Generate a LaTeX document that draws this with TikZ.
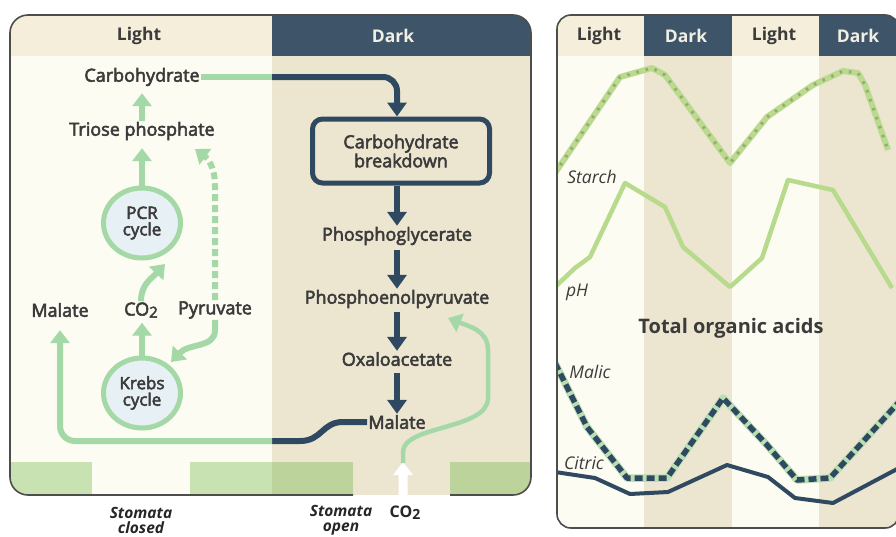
\documentclass[tikz,border=0pt]{standalone}
\usepackage{fontspec}
\setmainfont{Open Sans}
\newfontfamily\medf[FakeBold=3]{Open Sans}
\usetikzlibrary{arrows.meta,shapes.geometric,calc}

\definecolor{lbody}{HTML}{FDFCF2}
\definecolor{dbody}{HTML}{ECE6D1}
\definecolor{lhead}{HTML}{F4EEDA}
\definecolor{dhead}{HTML}{3E5569}
\definecolor{gArrow}{HTML}{A4D8A6}
\definecolor{dArrow}{HTML}{2F4A60}
\definecolor{txtc}{HTML}{3B3B3B}
\definecolor{circfill}{HTML}{E7F0F4}
\definecolor{stripL}{HTML}{C8E3B1}
\definecolor{stripD}{HTML}{BCD39B}
\definecolor{borderc}{HTML}{4D4D4D}
\definecolor{starchc}{HTML}{BCD990}
\definecolor{starchdot}{HTML}{8FB06C}
\definecolor{phc}{HTML}{B8DA8C}
\definecolor{malicbg}{HTML}{B9DEB4}
\definecolor{headtxt}{HTML}{F1EEE3}

\begin{document}
\begin{tikzpicture}[x=1pt,y=-1pt,
  lbl/.style={font=\medf\fontsize{18}{19}\selectfont, text=txtc, inner sep=1pt},
  hdr/.style={font=\bfseries\fontsize{17.5}{17.5}\selectfont, inner sep=0pt},
  itl/.style={font=\itshape\fontsize{17.5}{17.5}\selectfont, text=txtc, inner sep=0pt},
  stom/.style={font=\bfseries\itshape\fontsize{15.5}{15}\selectfont, text=black!85, align=center, inner sep=0pt},
  cyc/.style={ellipse, draw=gArrow, line width=5pt, fill=circfill, minimum width=77pt, minimum height=70pt, align=center, inner sep=0pt, font=\medf\fontsize{17}{16.5}\selectfont, text=txtc},
  gline/.style={draw=gArrow, line width=6pt},
  garr/.style={gline, -{Triangle[width=19pt,length=13pt]}},
  darr/.style={draw=dArrow, line width=6pt, -{Triangle[width=19pt,length=14pt]}},
  dline/.style={draw=dArrow, line width=6pt},
]
\useasboundingbox (0,0) rectangle (896,536);
\clip (0,0) rectangle (896,536);

% ---------- left panel background ----------
\begin{scope}
\clip[rounded corners=18pt] (10,15) rectangle (531,495);
\fill[lhead] (10,15) rectangle (272,56);
\fill[dhead] (272,15) rectangle (531,56);
\fill[lbody] (10,56) rectangle (272,462);
\fill[dbody] (272,56) rectangle (531,462);
\fill[stripL] (10,462) rectangle (92,495);
\fill[lbody] (92,462) rectangle (190,495);
\fill[stripL] (190,462) rectangle (272,495);
\fill[stripD] (272,462) rectangle (353,495);
\fill[dbody] (353,462) rectangle (450,495);
\fill[stripD] (450,462) rectangle (531,495);
\end{scope}
\draw[borderc, line width=1.6pt, rounded corners=18pt] (353,495) -- (10,495) -- (10,15) -- (531,15) -- (531,495) -- (450,495);

% white CO2 arrow
\fill[white] (398.5,497) -- (398.5,475) -- (393,475) -- (403,462) -- (413,475) -- (407.5,475) -- (407.5,497) -- cycle;

% ---------- right panel background ----------
\begin{scope}
\clip[rounded corners=14pt] (557,15) rectangle (899,528);
\fill[lhead] (557,15) rectangle (644,56);
\fill[dhead] (644,15) rectangle (732,56);
\fill[lhead] (732,15) rectangle (819,56);
\fill[dhead] (819,15) rectangle (899,56);
\fill[lbody] (557,56) rectangle (644,528);
\fill[dbody] (644,56) rectangle (732,528);
\fill[lbody] (732,56) rectangle (819,528);
\fill[dbody] (819,56) rectangle (899,528);
% starch
\draw[starchc, line width=6pt, line join=round] plot coordinates {(555,173) (620,77) (652,68) (665,75) (730,163) (767,117) (813,85) (843,71) (858,73) (865,85) (888,150)};
\draw[starchdot, line width=3pt, line join=round, dash pattern=on 2.5pt off 7pt] plot coordinates {(555,173) (620,77) (652,68) (665,75) (730,163) (767,117) (813,85) (843,71) (858,73) (865,85) (888,150)};
% pH
\draw[phc, line width=4.5pt, line join=round] plot coordinates {(555,287) (575,268) (590,257) (625,183) (665,207) (683,247) (730,287) (762,258) (788,180) (833,190) (892,288)};
% malic
\draw[malicbg, line width=7.5pt, line join=round] plot coordinates {(555,363) (587,427) (627,478) (667,478) (723,398) (767,445) (797,480) (830,478) (899,402)};
\draw[dArrow, line width=5.5pt, line join=round, dash pattern=on 8pt off 4pt] plot coordinates {(555,363) (587,427) (627,478) (667,478) (723,398) (767,445) (797,480) (830,478) (899,402)};
% citric
\draw[dArrow, line width=4pt, line join=round] plot coordinates {(555,472) (595,478) (630,494) (668,492) (727,465) (768,477) (795,498) (833,503) (899,468)};
\end{scope}
\draw[borderc, line width=1.6pt, rounded corners=14pt] (557,15) rectangle (899,528);

% ---------- headers ----------
\node[hdr, text=txtc] (hL1) at (139,36) {Light};
\node[hdr, text=headtxt] (hD1) at (393,36) {Dark};
\node[hdr, text=txtc] (hL2) at (599,36) {Light};
\node[hdr, text=headtxt] (hD2) at (686,36) {Dark};
\node[hdr, text=txtc] (hL3) at (774,36) {Light};
\node[hdr, text=headtxt] (hD3) at (858,36) {Dark};

% ---------- right panel labels ----------
\node[itl] (starch) at (592,177) {Starch};
\node[itl] (ph) at (577,292) {pH};
\node[font=\bfseries\fontsize{20}{20}\selectfont, text=txtc, inner sep=0pt] (toa) at (731,328) {Total organic acids};
\node[itl] (malic) at (590,372) {Malic};
\node[itl] (citric) at (584,463) {Citric};

% ---------- left panel nodes ----------
\node[lbl] (carb) at (142,77) {Carbohydrate};
\node[lbl] (triose) at (142,131) {Triose phosphate};
\node[cyc] (pcr) at (142,223) {PCR\\cycle};
\node[cyc] (krebs) at (142,393) {Krebs\\cycle};
\node[lbl] (malL) at (60,310) {Malate};
\node[lbl] (co2) at (141,310) {CO\raisebox{-2pt}{\fontsize{15}{15}\selectfont 2}};
\node[lbl] (pyr) at (215,310) {Pyruvate};

\node[lbl, draw=dArrow, line width=5pt, fill=dbody, rounded corners=10pt, minimum width=177pt, minimum height=64pt, align=center] (box) at (401,151) {Carbohydrate\\breakdown};
\node[lbl] (pg) at (397,236) {Phosphoglycerate};
\node[lbl] (pep) at (397,299) {Phosphoenolpyruvate};
\node[lbl] (oaa) at (397,359) {Oxaloacetate};
\node[lbl] (malR) at (397,422) {Malate};

\node[stom] (stc) at (141,520) {Stomata\\closed};
\node[stom] (sto) at (341,520) {Stomata\\open};
\node[font=\bfseries\fontsize{16}{16}\selectfont, text=black!85, inner sep=0pt] (co2b) at (405,513) {CO\raisebox{-2pt}{\fontsize{14}{14}\selectfont 2}};

% ---------- connectors ----------
\coordinate (c1) at (272,77);
\draw[gline] (carb.east) -- (c1);
\draw[darr, rounded corners=14pt] (c1) -- (c1 -| pg) -- (box.north -| pg);

\draw[darr] (box.south -| pg) -- (pg.north);
\draw[darr, shorten <=4pt] (pg.south) -- (pep.north);
\draw[darr, shorten <=3pt] (pep.south) -- (oaa.north);
\draw[darr, shorten <=6pt] (oaa.south) -- (malR.north);

\draw[garr, shorten >=6pt] (triose.north) -- (carb.south);
\draw[garr, shorten >=7pt] (pcr.north) -- (triose.south);
\draw[garr, shorten >=4pt] (krebs.north) -- (krebs.north |- co2.south);

\coordinate (pcrin) at (165,264);
\draw[garr] (co2.north) .. controls (141,285) and (150,280) .. (pcrin);

\coordinate (kin) at (171,362);
\draw[garr] (pyr.south) -- (215,330) .. controls (215,348) and (189,343) .. (kin);

\coordinate (trin) at (195,149);
\draw[garr, dash pattern=on 7pt off 4pt] (pyr.north) -- (215,186) .. controls (215,166) and (207,158) .. (trin);

\coordinate (j1) at (272,441);
\draw[dline] (malR.west) -- (343,422) .. controls (322,422) and (322,441) .. (300,441) -- (j1);
\draw[garr, rounded corners=15pt, shorten >=12pt] (j1) -- (j1 -| malL.south) -- (malL.south);

\coordinate (wa) at (403,463);
\coordinate (pepin) at (448,318);
\draw[garr, line width=4.5pt] (wa) -- (403,452) .. controls (403,425) and (488,430) .. (488,398) -- (488,350) .. controls (488,330) and (468,326) .. (pepin);
\end{tikzpicture}
\end{document}
